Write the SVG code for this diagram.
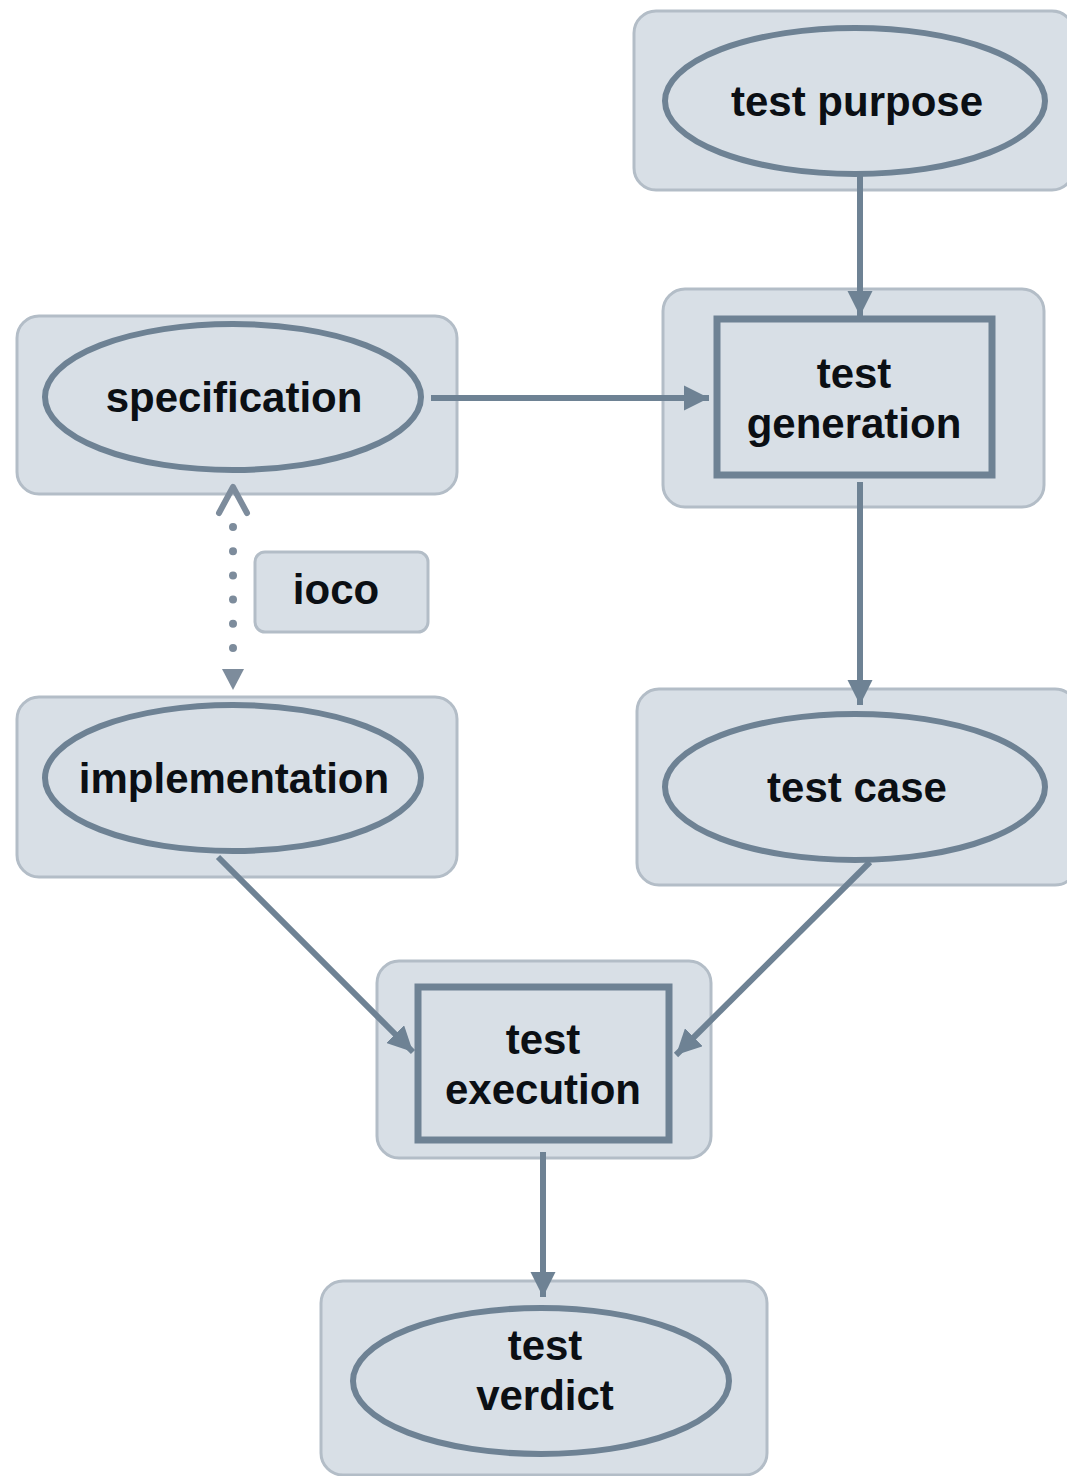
<svg xmlns="http://www.w3.org/2000/svg" width="1067" height="1476" viewBox="0 0 1067 1476">
<style>
.box{fill:#d8dfe6;stroke:#b3bdc7;stroke-width:3}
.ell{fill:#d8dfe6;stroke:#6e8294;stroke-width:6}
.proc{fill:#d8dfe6;stroke:#6e8294;stroke-width:7}
.lbl{font-family:"Liberation Sans",Arial,sans-serif;font-weight:bold;font-size:42px;fill:#0b0f14;text-anchor:middle}
.edge{stroke:#6e8294;stroke-width:6;fill:none}
</style>
<defs>
<marker id="ah" viewBox="0 0 10 10" refX="10" refY="5" markerWidth="4.2" markerHeight="4.2" markerUnits="strokeWidth" orient="auto">
<path d="M0,0 L10,5 L0,10 z" fill="#6e8294"/>
</marker>
</defs>
<g id="n-test-purpose">
<rect class="box" x="634" y="11" width="440" height="179" rx="22"/>
<ellipse class="ell" cx="855" cy="101" rx="190" ry="73"/>
<text class="lbl" x="857" y="116">test purpose</text>
</g>
<g id="n-specification">
<rect class="box" x="17" y="316" width="440" height="178" rx="22"/>
<ellipse class="ell" cx="233" cy="397" rx="188" ry="73"/>
<text class="lbl" x="234" y="412">specification</text>
</g>
<g id="n-test-generation">
<rect class="box" x="663" y="289" width="381" height="218" rx="22"/>
<rect class="proc" x="717" y="319" width="275" height="156"/>
<text class="lbl" x="854" y="388">test</text>
<text class="lbl" x="854" y="438">generation</text>
</g>
<g id="n-ioco">
<rect class="box" x="255" y="552" width="173" height="80" rx="10"/>
<text class="lbl" x="336" y="604">ioco</text>
</g>
<g id="n-implementation">
<rect class="box" x="17" y="697" width="440" height="180" rx="22"/>
<ellipse class="ell" cx="233" cy="778" rx="188" ry="73"/>
<text class="lbl" x="234" y="793">implementation</text>
</g>
<g id="n-test-case">
<rect class="box" x="637" y="689" width="440" height="196" rx="22"/>
<ellipse class="ell" cx="855" cy="787" rx="190" ry="73"/>
<text class="lbl" x="857" y="802">test case</text>
</g>
<g id="n-test-execution">
<rect class="box" x="377" y="961" width="334" height="197" rx="22"/>
<rect class="proc" x="418" y="987" width="251" height="153"/>
<text class="lbl" x="543" y="1054">test</text>
<text class="lbl" x="543" y="1104">execution</text>
</g>
<g id="n-test-verdict">
<rect class="box" x="321" y="1281" width="446" height="194" rx="22"/>
<ellipse class="ell" cx="541" cy="1381" rx="188" ry="73"/>
<text class="lbl" x="545" y="1360">test</text>
<text class="lbl" x="545" y="1410">verdict</text>
</g>
<g id="connectors">
<line class="edge" x1="860" y1="176" x2="860" y2="316" marker-end="url(#ah)"/>
<line class="edge" x1="431" y1="398" x2="709" y2="398" marker-end="url(#ah)"/>
<line class="edge" x1="860" y1="482" x2="860" y2="705" marker-end="url(#ah)"/>
<line class="edge" x1="218" y1="857" x2="413" y2="1052" marker-end="url(#ah)"/>
<line class="edge" x1="870" y1="862" x2="676" y2="1055" marker-end="url(#ah)"/>
<line class="edge" x1="543" y1="1152" x2="543" y2="1297" marker-end="url(#ah)"/>
<line x1="233" y1="527" x2="233" y2="650" stroke="#7d8c9c" stroke-width="8" stroke-linecap="round" stroke-dasharray="0 24.2"/>
<path d="M222,669 L244,669 L233,690 z" fill="#7d8c9c"/>
<polyline points="219,513 233,487 247,513" fill="none" stroke="#7d8c9c" stroke-width="6" stroke-linecap="round" stroke-linejoin="round"/>
</g>
</svg>
